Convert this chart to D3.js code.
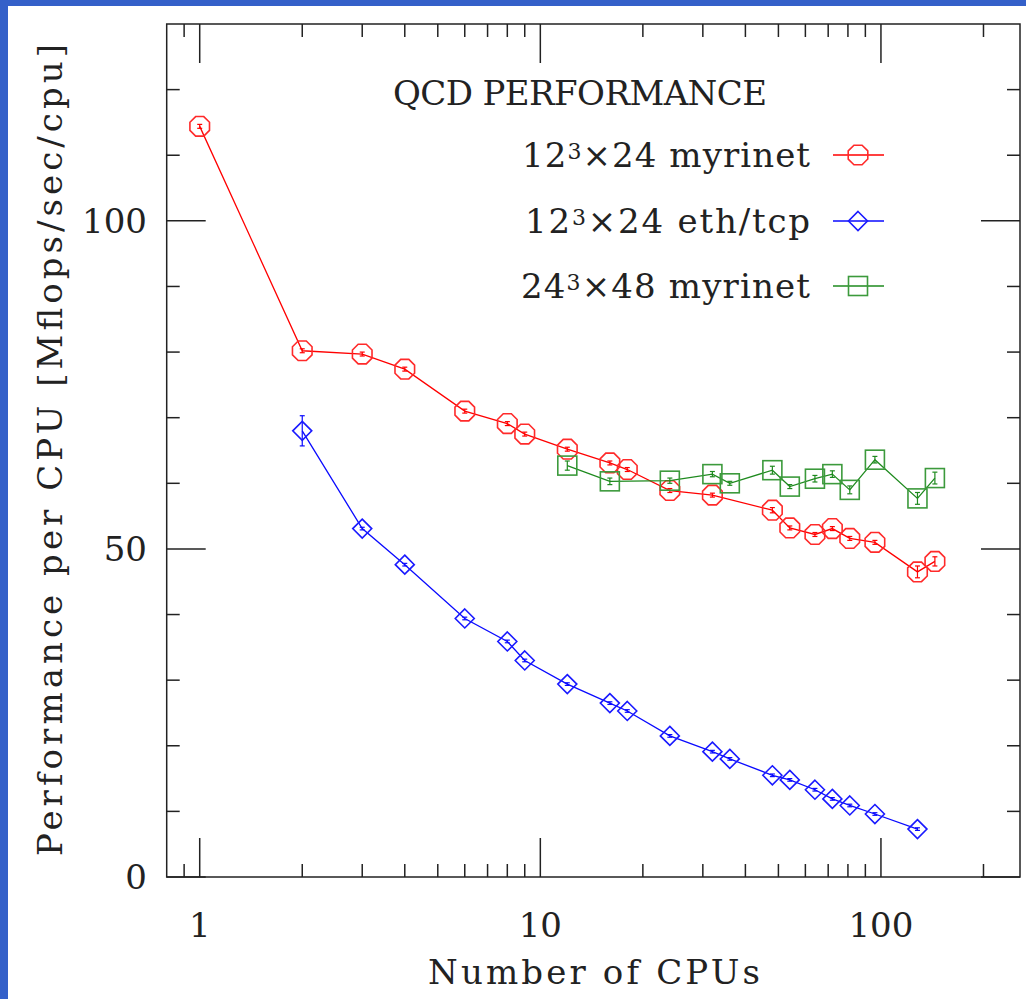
<!DOCTYPE html>
<meta charset="utf-8">
<title>QCD performance</title>
<style>
body { margin: 0; background: #fff; }
text { font-family: "DejaVu Serif", serif; fill: #222; }
</style>
<body>
<script src="https://d3js.org/d3.v7.min.js"></script>
<script>

// CPUs on the x axis, Mflops/sec/cpu on the y axis
var cpusMyri12 = [1, 2, 3, 4, 6, 8, 9, 12, 16, 18, 24, 32, 48, 54, 64, 72, 81, 96, 128, 144];
var perfMyri12 = [114.4, 80.2, 79.7, 77.4, 71.0, 69.1, 67.5, 65.2, 63.1, 62.1, 58.9, 58.2, 55.9, 53.2, 52.2, 53.1, 51.6, 51.0, 46.5, 48.1];
var errMyri12  = [0.3, 0.3, 0.3, 0.3, 0.3, 0.3, 0.3, 0.3, 0.3, 0.3, 0.3, 0.3, 0.4, 0.3, 0.3, 0.3, 0.3, 0.3, 0.9, 0.7];

var cpusEth12 = [2, 3, 4, 6, 8, 9, 12, 16, 18, 24, 32, 36, 48, 54, 64, 72, 81, 96, 128];
var perfEth12 = [68.0, 53.1, 47.6, 39.4, 35.9, 33.0, 29.4, 26.5, 25.3, 21.5, 19.1, 18.0, 15.5, 14.8, 13.3, 11.9, 10.9, 9.6, 7.3];
var errEth12  = [2.3, 0.2, 0.2, 0.2, 0.2, 0.2, 0.2, 0.2, 0.2, 0.2, 0.2, 0.2, 0.2, 0.2, 0.2, 0.2, 0.2, 0.2, 0.2];

var cpusMyri24 = [12, 16, 24, 32, 36, 48, 54, 64, 72, 81, 96, 128, 144];
var perfMyri24 = [62.7, 60.3, 60.4, 61.4, 60.0, 62.0, 59.5, 60.7, 61.4, 59.0, 63.6, 57.7, 60.8];
var errMyri24  = [0.7, 0.5, 0.4, 0.4, 0.3, 0.6, 0.3, 0.5, 0.5, 0.6, 0.5, 0.9, 0.9];

var xMajor = [1, 10, 100];
var yMajor = [0, 50, 100];
var xLabel = "Number of CPUs";
var yLabel = "Performance per CPU [Mflops/sec/cpu]";
var title = "QCD PERFORMANCE";

var series = [
  {base: "12", exp: "3", rest: "\u00d724 myrinet", x: cpusMyri12, y: perfMyri12, e: errMyri12,
   line: "#ff0000", mark: "#ff2a2a", shape: "oct"},
  {base: "12", exp: "3", rest: "\u00d724 eth/tcp", x: cpusEth12, y: perfEth12, e: errEth12,
   line: "#0a0aff", mark: "#1a1aff", shape: "dia"},
  {base: "24", exp: "3", rest: "\u00d748 myrinet", x: cpusMyri24, y: perfMyri24, e: errMyri24,
   line: "#1e8a1e", mark: "#3c9a3c", shape: "sq"}
];

var W = 1026, H = 999;
var svg = d3.select("body").append("svg").attr("width", W).attr("height", H);

// blue border strips
svg.append("rect").attr("x", 0).attr("y", 0).attr("width", 8).attr("height", H).attr("fill", "#3460c9");
svg.append("rect").attr("x", 0).attr("y", 0).attr("width", W).attr("height", 6).attr("fill", "#3460c9");

var L = 166.7, R = 1020, T = 24, B = 877;
var x = d3.scaleLog().domain([0.8, 256]).range([L, R]);
var y = d3.scaleLinear().domain([0, 130]).range([B, T]);

var xMinor = x.ticks().filter(function(d) { return xMajor.indexOf(d) < 0 && x(d) > L + 1 && x(d) < R - 1; });
var yMinor = d3.range(10, 130, 10).filter(function(d) { return yMajor.indexOf(d) < 0; });

var ax = svg.append("g").attr("stroke", "#222").attr("stroke-width", 1.5);
ax.append("rect").attr("x", L).attr("y", T).attr("width", R - L).attr("height", B - T).attr("fill", "none");

function xt(v, len) {
  ax.append("line").attr("x1", x(v)).attr("x2", x(v)).attr("y1", B).attr("y2", B - len);
  ax.append("line").attr("x1", x(v)).attr("x2", x(v)).attr("y1", T).attr("y2", T + len);
}
function yt(v, len) {
  ax.append("line").attr("y1", y(v)).attr("y2", y(v)).attr("x1", L).attr("x2", L + len);
  ax.append("line").attr("y1", y(v)).attr("y2", y(v)).attr("x1", R).attr("x2", R - len);
}
xMajor.forEach(function(v) { xt(v, 39); });
xMinor.forEach(function(v) { xt(v, 13); });
yMajor.forEach(function(v) { yt(v, 39); });
yMinor.forEach(function(v) { yt(v, 13); });

var fs = 34;
svg.selectAll(".xl").data(xMajor).enter().append("text")
  .attr("x", function(d) { return x(d); }).attr("y", 937)
  .attr("text-anchor", "middle").attr("font-size", fs)
  .text(function(d) { return d; });

svg.selectAll(".yl").data(yMajor).enter().append("text")
  .attr("x", 147).attr("y", function(d) { return y(d) + 12; })
  .attr("text-anchor", "end").attr("font-size", fs)
  .text(function(d) { return d; });

svg.append("text").attr("x", 428).attr("y", 984).attr("font-size", fs)
  .attr("textLength", 332).attr("lengthAdjust", "spacing").text(xLabel);

svg.append("text").attr("transform", "translate(62,856) rotate(-90)")
  .attr("font-size", fs).attr("textLength", 812).attr("lengthAdjust", "spacing").text(yLabel);

svg.append("text").attr("x", 393).attr("y", 105).attr("font-size", fs)
  .attr("textLength", 374).attr("lengthAdjust", "spacing").text(title);

// marker shapes
function marker(g, shape, color) {
  if (shape === "oct") {
    var r = 10.6, pts = d3.range(8).map(function(i) {
      var a = Math.PI / 8 + i * Math.PI / 4;
      return [r * Math.cos(a), r * Math.sin(a)];
    });
    g.append("polygon").attr("points", pts.join(" "));
  } else if (shape === "dia") {
    g.append("polygon").attr("points", "0,-9.5 9.5,0 0,9.5 -9.5,0");
  } else {
    g.append("rect").attr("x", -9.5).attr("y", -9.5).attr("width", 19).attr("height", 19);
  }
  g.attr("fill", "none").attr("stroke", color).attr("stroke-width", 1.6);
}

var line = d3.line().x(function(d) { return x(d[0]); }).y(function(d) { return y(d[1]); });

series.forEach(function(s) {
  var pts = s.x.map(function(c, i) { return [c, s.y[i], s.e[i]]; });
  var g = svg.append("g");
  g.append("path").attr("d", line(pts)).attr("fill", "none")
    .attr("stroke", s.line).attr("stroke-width", 1.3);
  // error bars
  pts.forEach(function(p) {
    var px = x(p[0]), y0 = y(p[1] - p[2]), y1 = y(p[1] + p[2]);
    var eb = g.append("g").attr("stroke", s.line).attr("stroke-width", 1.2);
    eb.append("line").attr("x1", px).attr("x2", px).attr("y1", y0).attr("y2", y1);
    eb.append("line").attr("x1", px - 2.5).attr("x2", px + 2.5).attr("y1", y0).attr("y2", y0);
    eb.append("line").attr("x1", px - 2.5).attr("x2", px + 2.5).attr("y1", y1).attr("y2", y1);
  });
  pts.forEach(function(p) {
    marker(g.append("g").attr("transform", "translate(" + x(p[0]) + "," + y(p[1]) + ")"), s.shape, s.mark);
  });
});

// legend
var legY = [167, 233, 298];
var legW = [288, 285, 289];
series.forEach(function(s, i) {
  var t = svg.append("text").attr("x", 810 - legW[i]).attr("y", legY[i]).attr("font-size", fs)
    .attr("textLength", legW[i]).attr("lengthAdjust", "spacing");
  t.append("tspan").text(s.base);
  t.append("tspan").attr("font-size", 22).attr("dy", -8).text(s.exp);
  t.append("tspan").attr("dy", 8).text(s.rest);
  var ly = legY[i] - 12;
  svg.append("line").attr("x1", 833).attr("x2", 884).attr("y1", ly).attr("y2", ly)
    .attr("stroke", s.line).attr("stroke-width", 1.3);
  marker(svg.append("g").attr("transform", "translate(858," + ly + ")"), s.shape, s.mark);
});

</script>
</body>
</html>
